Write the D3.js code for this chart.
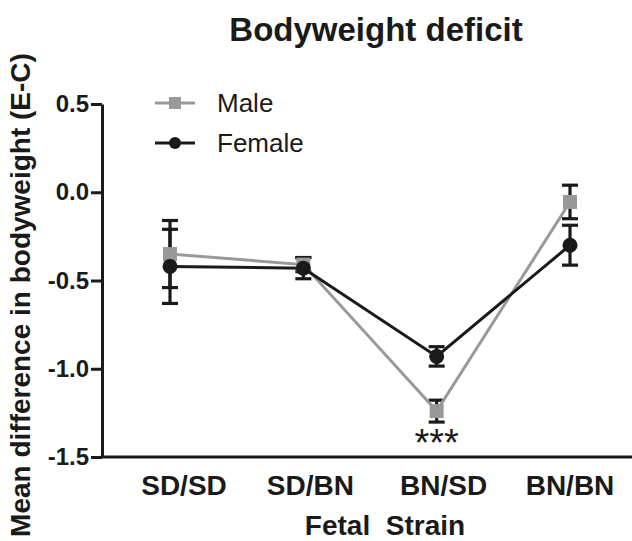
<!DOCTYPE html>
<html>
<head>
<meta charset="utf-8">
<script src="https://cdn.jsdelivr.net/npm/d3@7"></script>
<style>
  body { margin: 0; background: #fff; }
  svg { font-family: 'Liberation Sans', Arial, sans-serif; }
</style>
</head>
<body>
<div id="chart"></div>
<script>
// data
const strains = ['SD/SD', 'SD/BN', 'BN/SD', 'BN/BN'];
const maleMean = [-0.35, -0.41, -1.24, -0.055];
const maleErr = [0.19, 0.04, 0.062, 0.095];
const femaleMean = [-0.42, -0.43, -0.93, -0.30];
const femaleErr = [0.21, 0.06, 0.055, 0.113];
const yTicks = [0.5, 0.0, -0.5, -1.0, -1.5];
const starsAt = 'BN/SD';

const W = 632;
const H = 541;
const ink = '#1a1a1a';
const grey = '#999999';
const labelNudge = [14, 7, 7, 0];

const svg = d3.select('#chart').append('svg').attr('width', W).attr('height', H);

const x = d3.scalePoint().domain(strains).range([170, 570]);
const y = d3.scaleLinear().domain([-1.5, 0.5]).range([457, 104]);

const series = [
  { name: 'Male', color: grey, shape: 'square', values: strains.map((s, i) => ({ s, m: maleMean[i], e: maleErr[i] })) },
  { name: 'Female', color: ink, shape: 'circle', values: strains.map((s, i) => ({ s, m: femaleMean[i], e: femaleErr[i] })) },
];

// title
svg.append('text')
  .attr('x', 376).attr('y', 41)
  .attr('text-anchor', 'middle')
  .style('font-size', '33px').style('font-weight', 'bold').style('fill', ink)
  .text('Bodyweight deficit');

// y axis
const yAxis = svg.append('g')
  .attr('transform', 'translate(102,0)')
  .call(d3.axisLeft(y).tickValues(yTicks).tickFormat(d3.format('.1f')).tickSize(11).tickSizeOuter(0));
yAxis.select('.domain').attr('stroke', ink).attr('stroke-width', 3);
yAxis.selectAll('.tick line').attr('stroke', ink).attr('stroke-width', 3);
yAxis.selectAll('.tick text')
  .attr('x', -13)
  .style('font-size', '24px').style('font-weight', 'bold').style('fill', ink)
  .text((d) => d3.format('.1f')(d).replace('−', '-'));

// x axis
svg.append('line')
  .attr('x1', 100.5).attr('x2', W).attr('y1', y(-1.5)).attr('y2', y(-1.5))
  .attr('stroke', ink).attr('stroke-width', 3);

svg.append('g').selectAll('text').data(strains).join('text')
  .attr('x', (d, i) => x(d) + labelNudge[i]).attr('y', 495)
  .attr('text-anchor', 'middle')
  .style('font-size', '28px').style('font-weight', 'bold').style('fill', ink)
  .text((d) => d);

svg.append('text')
  .attr('x', 385).attr('y', 535)
  .attr('text-anchor', 'middle')
  .attr('xml:space', 'preserve').style('white-space', 'pre')
  .style('font-size', '28px').style('font-weight', 'bold').style('fill', ink)
  .text('Fetal  Strain');

svg.append('text')
  .attr('transform', 'translate(30,295) rotate(-90)')
  .attr('text-anchor', 'middle')
  .style('font-size', '28px').style('font-weight', 'bold').style('fill', ink)
  .text('Mean difference in bodyweight (E-C)');

const plot = svg.append('g');

// error bars
series.forEach((sr) => {
  const g = plot.append('g');
  sr.values.forEach((d) => {
    const cx = x(d.s);
    g.append('line').attr('x1', cx).attr('x2', cx).attr('y1', y(d.m + d.e)).attr('y2', y(d.m - d.e))
      .attr('stroke', ink).attr('stroke-width', 3.2);
    [d.m + d.e, d.m - d.e].forEach((v) => {
      g.append('line').attr('x1', cx - 8).attr('x2', cx + 8).attr('y1', y(v)).attr('y2', y(v))
        .attr('stroke', ink).attr('stroke-width', 3.2);
    });
  });
});

// lines + markers
const linePath = d3.line().x((d) => x(d.s)).y((d) => y(d.m));

const drawMarker = (g, shape, color, cx, cy, size) => {
  if (shape === 'square') {
    g.append('rect').attr('x', cx - size / 2).attr('y', cy - size / 2).attr('width', size).attr('height', size).attr('fill', color);
  } else {
    g.append('circle').attr('cx', cx).attr('cy', cy).attr('r', size / 2).attr('fill', color);
  }
};

series.forEach((sr) => {
  plot.append('path').datum(sr.values)
    .attr('d', linePath).attr('fill', 'none')
    .attr('stroke', sr.color).attr('stroke-width', 3);
});
series.forEach((sr) => {
  const g = plot.append('g');
  sr.values.forEach((d) => drawMarker(g, sr.shape, sr.color, x(d.s), y(d.m), sr.shape === 'square' ? 14 : 15));
});

// significance
svg.append('text')
  .attr('x', x(starsAt)).attr('y', 456)
  .attr('text-anchor', 'middle')
  .style('font-size', '38px').style('fill', ink)
  .text('***');

// legend
const legend = svg.append('g');
series.forEach((sr, i) => {
  const ly = 103 + i * 40;
  legend.append('line').attr('x1', 155).attr('x2', 195).attr('y1', ly).attr('y2', ly)
    .attr('stroke', sr.color).attr('stroke-width', 3);
  drawMarker(legend, sr.shape, sr.color, 175, ly, 12);
  legend.append('text')
    .attr('x', 217).attr('y', ly + 9)
    .style('font-size', '26px').style('fill', ink)
    .text(sr.name);
});
</script>
</body>
</html>
